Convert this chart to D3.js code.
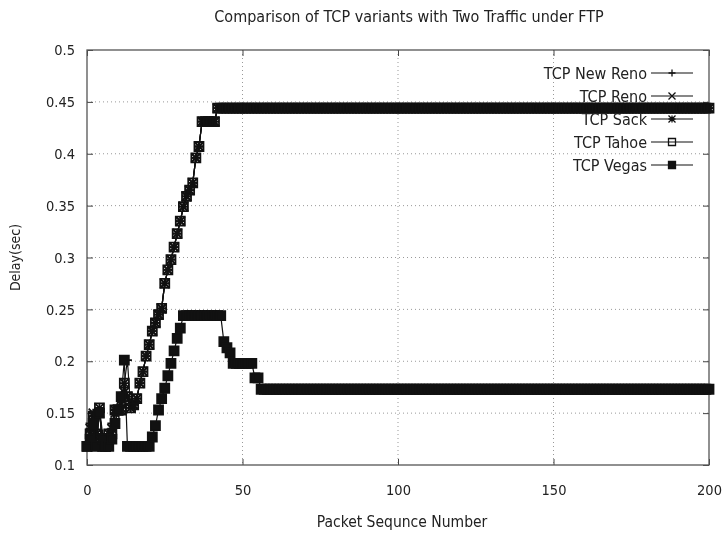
<!DOCTYPE html>
<html>
<head>
<meta charset="utf-8">
<script src="https://cdn.jsdelivr.net/npm/d3@7"></script>
<style>
  body { margin: 0; background: #fff; }
  svg { display: block; filter: blur(0.35px); }
  text { font-family: "Liberation Sans Narrow", "DejaVu Sans Condensed", "Liberation Sans", sans-serif; fill: #222; }
</style>
</head>
<body>
<div id="chart-area"></div>
<script>
const MARGIN = { LEFT: 87, RIGHT: 13, TOP: 50, BOTTOM: 72 }
const WIDTH = 722 - MARGIN.LEFT - MARGIN.RIGHT
const HEIGHT = 537 - MARGIN.TOP - MARGIN.BOTTOM

const xTicks = [0, 50, 100, 150, 200]
const yTicks = [0.1, 0.15, 0.2, 0.25, 0.3, 0.35, 0.4, 0.45, 0.5]

// delay per packet from seq 0, then the steady delay held up to packet 200
const newRenoDelay = [0.118, 0.140, 0.147, 0.125, 0.155, 0.130, 0.118, 0.130, 0.140, 0.153, 0.153, 0.160,
  0.179, 0.201, 0.155, 0.158, 0.164, 0.179, 0.190, 0.205, 0.216, 0.229, 0.237, 0.245, 0.251, 0.275,
  0.288, 0.298, 0.310, 0.323, 0.335, 0.349, 0.359, 0.365, 0.372, 0.396, 0.407, 0.431, 0.431, 0.431,
  0.431, 0.431]
const renoDelay = [0.118, 0.130, 0.147, 0.130, 0.155, 0.118, 0.118, 0.130, 0.130, 0.153, 0.153, 0.153,
  0.179, 0.166, 0.155, 0.158, 0.164, 0.179, 0.190, 0.205, 0.216, 0.229, 0.237, 0.245, 0.251, 0.275,
  0.288, 0.298, 0.310, 0.323, 0.335, 0.349, 0.359, 0.365, 0.372, 0.396, 0.407, 0.431, 0.431, 0.431,
  0.431, 0.431]
const sackDelay = [0.118, 0.135, 0.150, 0.130, 0.150, 0.125, 0.118, 0.125, 0.135, 0.150, 0.153, 0.155,
  0.170, 0.166, 0.155, 0.158, 0.164, 0.179, 0.190, 0.205, 0.216, 0.229, 0.237, 0.245, 0.251, 0.275,
  0.288, 0.298, 0.310, 0.323, 0.335, 0.349, 0.359, 0.365, 0.372, 0.396, 0.407, 0.431, 0.431, 0.431,
  0.431, 0.431]
const tahoeDelay = [0.118, 0.130, 0.147, 0.130, 0.155, 0.118, 0.118, 0.130, 0.130, 0.153, 0.153, 0.153,
  0.179, 0.166, 0.155, 0.158, 0.164, 0.179, 0.190, 0.205, 0.216, 0.229, 0.237, 0.245, 0.251, 0.275,
  0.288, 0.298, 0.310, 0.323, 0.335, 0.349, 0.359, 0.365, 0.372, 0.396, 0.407, 0.431, 0.431, 0.431,
  0.431, 0.431]
const vegasDelay = [0.118, 0.125, 0.140, 0.118, 0.150, 0.125, 0.118, 0.118, 0.125, 0.140, 0.153, 0.166,
  0.201, 0.118, 0.118, 0.118, 0.118, 0.118, 0.118, 0.118, 0.118, 0.127, 0.138, 0.153, 0.164, 0.174,
  0.186, 0.198, 0.210, 0.222, 0.232, 0.244, 0.244, 0.244, 0.244, 0.244, 0.244, 0.244, 0.244, 0.244,
  0.244, 0.244, 0.244, 0.244, 0.219, 0.213, 0.208, 0.198, 0.198, 0.198, 0.198, 0.198, 0.198, 0.198,
  0.184, 0.184]

const seriesNames = ["TCP New Reno", "TCP Reno", "TCP Sack", "TCP Tahoe", "TCP Vegas"]
const seriesDelays = [newRenoDelay, renoDelay, sackDelay, tahoeDelay, vegasDelay]
const steadyDelay = [0.444, 0.444, 0.444, 0.444, 0.173]
const markerTypes = ["plus", "cross", "star", "box", "boxfill"]
const lastPacket = 200

const svg = d3.select("#chart-area").append("svg")
  .attr("width", WIDTH + MARGIN.LEFT + MARGIN.RIGHT)
  .attr("height", HEIGHT + MARGIN.TOP + MARGIN.BOTTOM)

svg.append("text")
  .attr("x", 409).attr("y", 22)
  .attr("text-anchor", "middle")
  .attr("font-size", 16)
  .text("Comparison of TCP variants with Two Traffic under FTP")

const g = svg.append("g")
  .attr("transform", `translate(${MARGIN.LEFT}, ${MARGIN.TOP})`)

const x = d3.scaleLinear().domain([0, 200]).range([0, WIDTH])
const y = d3.scaleLinear().domain([0.1, 0.5]).range([HEIGHT, 0])

// grid
g.append("g").selectAll("line").data(xTicks.slice(1, -1)).enter().append("line")
  .attr("x1", d => x(d)).attr("x2", d => x(d)).attr("y1", 0).attr("y2", HEIGHT)
  .attr("stroke", "#999").attr("stroke-dasharray", "1,3")
g.append("g").selectAll("line").data(yTicks.slice(1, -1)).enter().append("line")
  .attr("y1", d => y(d)).attr("y2", d => y(d)).attr("x1", 0).attr("x2", WIDTH)
  .attr("stroke", "#999").attr("stroke-dasharray", "1,3")

// axes, ticks pointing inward
g.append("g").attr("transform", `translate(0, ${HEIGHT})`)
  .call(d3.axisBottom(x).tickValues(xTicks).tickSize(-6).tickPadding(20).tickFormat(d3.format("d")))
g.append("g")
  .call(d3.axisLeft(y).tickValues(yTicks).tickSize(-6).tickPadding(12).tickFormat(d => String(+d.toFixed(2))))
g.append("g").attr("transform", `translate(${WIDTH}, 0)`)
  .call(d3.axisRight(y).tickValues(yTicks).tickSize(-6).tickFormat(""))
g.append("g")
  .call(d3.axisTop(x).tickValues(xTicks).tickSize(-6).tickFormat(""))
g.selectAll(".domain").remove()
g.selectAll(".tick line").attr("stroke", "#444")
g.selectAll(".tick text").attr("font-size", 14.5).attr("fill", "#222")
  .attr("font-family", "\"Liberation Sans Narrow\", \"DejaVu Sans Condensed\", sans-serif")

g.append("rect")
  .attr("width", WIDTH).attr("height", HEIGHT)
  .attr("fill", "none").attr("stroke", "#555").attr("stroke-width", 1.3)

svg.append("text")
  .attr("transform", `translate(20, ${MARGIN.TOP + HEIGHT / 2}) rotate(-90)`)
  .attr("text-anchor", "middle").attr("font-size", 14)
  .text("Delay(sec)")
svg.append("text")
  .attr("x", 402).attr("y", 527)
  .attr("text-anchor", "middle").attr("font-size", 15.5)
  .text("Packet Sequnce Number")

function markerPath(type, r) {
  if (type === "plus") return `M${-r},0H${r}M0,${-r}V${r}`
  if (type === "cross") return `M${-r},${-r}L${r},${r}M${-r},${r}L${r},${-r}`
  if (type === "star") return `M${-r},0H${r}M0,${-r}V${r}M${-r},${-r}L${r},${r}M${-r},${r}L${r},${-r}`
  return `M${-r},${-r}H${r}V${r}H${-r}Z`
}

// legend (drawn under the curves)
const legend = svg.append("g")
seriesNames.forEach((name, i) => {
  const ly = 73 + i * 23
  legend.append("text").attr("x", 647).attr("y", ly + 6)
    .attr("text-anchor", "end").attr("font-size", 16).text(name)
  legend.append("line").attr("x1", 651).attr("x2", 693).attr("y1", ly).attr("y2", ly)
    .attr("stroke", "#111").attr("stroke-width", 1.2)
  legend.append("path").attr("transform", `translate(672, ${ly})`)
    .attr("d", markerPath(markerTypes[i], 3.5))
    .attr("fill", markerTypes[i] === "boxfill" ? "#111" : "none")
    .attr("stroke", "#111").attr("stroke-width", 1.3)
})

const line = d3.line().x(d => x(d.seq)).y(d => y(d.delay))

seriesDelays.forEach((delays, i) => {
  const data = []
  for (let seq = 0; seq <= lastPacket; seq++) {
    data.push({ seq: seq, delay: seq < delays.length ? delays[seq] : steadyDelay[i] })
  }
  const s = g.append("g")
  s.append("path").datum(data).attr("d", line)
    .attr("fill", "none").attr("stroke", "#111").attr("stroke-width", 1.2)
  s.selectAll("path.pt").data(data).enter().append("path")
    .attr("class", "pt")
    .attr("transform", d => `translate(${x(d.seq)}, ${y(d.delay)})`)
    .attr("d", markerPath(markerTypes[i], 4.5))
    .attr("fill", markerTypes[i] === "boxfill" ? "#111" : "none")
    .attr("stroke", "#111").attr("stroke-width", 1.8)
})
</script>
</body>
</html>
